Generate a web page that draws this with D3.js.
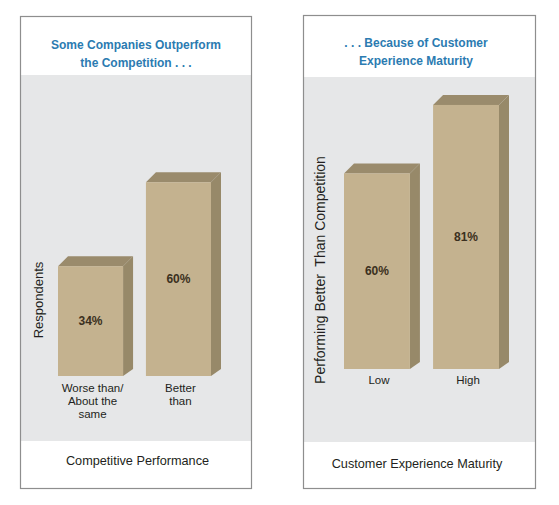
<!DOCTYPE html>
<html><head><meta charset="utf-8">
<script src="https://cdn.jsdelivr.net/npm/d3@7"></script>
<style>
html,body{margin:0;padding:0;background:#fff;}
svg{display:block;font-family:"Liberation Sans",Arial,sans-serif;}
</style></head>
<body><svg id="c" width="559" height="505"></svg>
<script>
// ---- data ----
const leftTitle = ["Some Companies Outperform", "the Competition . . ."];
const leftCategories = ["Worse than/\nAbout the\nsame", "Better\nthan"];
const leftValues = [34, 60];
const leftYTitle = "Respondents";
const leftXTitle = "Competitive Performance";

const rightTitle = [". . . Because of Customer", "Experience Maturity"];
const rightCategories = ["Low", "High"];
const rightValues = [60, 81];
const rightYTitle = "Performing Better  Than Competition";
const rightXTitle = "Customer Experience Maturity";

const svg = d3.select("#c");
svg.append("rect").attr("width",559).attr("height",505).attr("fill","#fff");

const FRONT="#c4b28f", TOP="#9a8b6c", SIDE="#978969";

function panel(cfg){
  const g = svg.append("g");
  g.append("rect").attr("x",cfg.x0).attr("y",cfg.grayTop)
    .attr("width",cfg.x1-cfg.x0).attr("height",cfg.grayBot-cfg.grayTop).attr("fill","#e6e7e8");
  g.append("rect").attr("x",cfg.x0+0.5).attr("y",cfg.y0+0.5)
    .attr("width",cfg.x1-cfg.x0).attr("height",cfg.y1-cfg.y0)
    .attr("fill","none").attr("stroke","#8e8e8e").attr("stroke-width",1.2);
  const t = g.append("text").attr("text-anchor","middle").attr("fill","#2b7bb1")
    .attr("font-weight","bold").attr("font-size","12px");
  cfg.title.forEach((s,i)=>t.append("tspan").attr("x",cfg.titleX).attr("y",cfg.titleY+i*17.5).text(s));

  const x = d3.scaleBand().domain(cfg.cats).range(cfg.xr).paddingInner(cfg.pad).paddingOuter(0);
  const y = d3.scaleLinear().domain([0,100]).range([cfg.base, cfg.top100]);
  const dx=10, dy=10;
  const data = cfg.cats.map((c,i)=>({c, v:cfg.vals[i]}));
  const bars = g.selectAll("g.bar").data(data).join("g");
  bars.append("path").attr("fill",TOP).attr("d",d=>{
    const a=x(d.c), b=a+x.bandwidth(), yt=y(d.v);
    return `M${a},${yt}L${a+dx},${yt-dy}L${b+dx},${yt-dy}L${b},${yt}Z`;});
  bars.append("path").attr("fill",SIDE).attr("d",d=>{
    const b=x(d.c)+x.bandwidth(), yt=y(d.v), yb=y(0);
    return `M${b},${yt}L${b+dx},${yt-dy}L${b+dx},${yb-7}L${b},${yb}Z`;});
  bars.append("rect").attr("fill",FRONT)
    .attr("x",d=>x(d.c)).attr("y",d=>y(d.v))
    .attr("width",x.bandwidth()).attr("height",d=>y(0)-y(d.v));
  bars.append("text").attr("text-anchor","middle").attr("font-weight","bold")
    .attr("font-size","12px").attr("fill","#3b3020")
    .attr("x",d=>x(d.c)+x.bandwidth()/2)
    .attr("y",d=>(y(d.v)+y(0))/2+4)
    .text(d=>d.v+"%");
  bars.each(function(d){
    const tt = d3.select(this).append("text").attr("text-anchor","middle")
      .attr("font-size","11.5px").attr("fill","#231f20");
    d.c.split("\n").forEach((s,i)=>tt.append("tspan")
      .attr("x",x(d.c)+x.bandwidth()/2+2).attr("y",y(0)+cfg.catDy+i*13).text(s));
  });
  g.append("text").attr("text-anchor","middle").attr("font-size",cfg.yFont).attr("fill","#231f20")
    .attr("transform",`translate(${cfg.yTitleX},${cfg.yTitleY}) rotate(-90)`)
    .style("white-space","pre").text(cfg.yTitle);
  g.append("text").attr("text-anchor","middle").attr("font-size","12.7px").attr("fill","#231f20")
    .attr("x",cfg.xTitleX).attr("y",cfg.xTitleY).text(cfg.xTitle);
}

panel({x0:20,x1:251,y0:16,y1:488,grayTop:75,grayBot:441,
  title:leftTitle,titleX:136,titleY:49,
  cats:leftCategories,vals:leftValues,xr:[58,211],pad:0.26,base:376,top100:53,
  catDy:16,yTitle:leftYTitle,yFont:"13px",yTitleX:43,yTitleY:300,xTitle:leftXTitle,xTitleX:137.5,xTitleY:465});

panel({x0:303,x1:535,y0:15,y1:488,grayTop:77,grayBot:442,
  title:rightTitle,titleX:416,titleY:47,
  cats:rightCategories,vals:rightValues,xr:[344,499],pad:0.26,base:369,top100:43,
  catDy:15,yTitle:rightYTitle,yFont:"14px",yTitleX:325,yTitleY:270,xTitle:rightXTitle,xTitleX:417,xTitleY:468});
</script></body></html>
